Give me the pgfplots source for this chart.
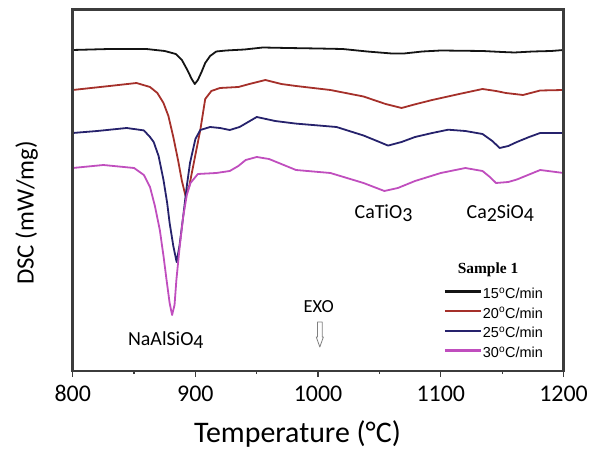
\documentclass[border=0pt]{standalone}
\usepackage{fontspec}
\setmainfont{Carlito}
\newfontfamily\arialf{Liberation Sans}
\newfontfamily\timesf{Liberation Serif}
\usepackage{pgfplots}
\pgfplotsset{compat=1.18}

\definecolor{c15}{RGB}{20,20,20}
\definecolor{c20}{RGB}{165,48,42}
\definecolor{c25}{RGB}{38,34,108}
\definecolor{c30}{RGB}{192,78,190}
\definecolor{axgray}{RGB}{60,60,60}

\begin{document}
\begin{tikzpicture}
\path[use as bounding box] (-72.7bp,-82bp) rectangle (519.3bp,371bp);
\begin{axis}[
  at={(0,0)}, anchor=south west,
  scale only axis, width=490.8bp, height=361.7bp,
  xmin=800, xmax=1200, ymin=0, ymax=361.7,
  xtick={800,900,...,1200}, minor x tick num=1,
  ytick=\empty, xtick pos=left, tick align=outside,
  major tick length=6bp, minor tick length=3bp,
  axis line style={axgray, line width=2bp},
  every tick/.style={axgray, line width=1.3bp},
  /pgf/number format/assume math mode=true,
  /pgf/number format/1000 sep={},
  tick label style={font=\fontsize{24}{24}\selectfont},
  xticklabel style={yshift=-5bp},
  xlabel={Temperature (°C)},
  xlabel style={font=\fontsize{30}{30}\selectfont, at={(axis description cs:0.458,-0.199)}, anchor=base},
  ylabel={DSC (mW/mg)},
  ylabel style={font=\fontsize{25}{25}\selectfont, at={(axis description cs:-0.0937,0.437)}, anchor=center},
  legend style={draw=none, fill=none, inner sep=0pt, outer sep=0pt,
    row sep=4.7bp, font=\arialf\fontsize{14.5}{14.5}\selectfont,
    nodes={text height=10bp, text depth=3bp, inner sep=1bp},
    at={(axis cs:1102.4,83.5)}, anchor=north west},
  legend cell align=left,
  legend image code/.code={\draw[#1, line width=2.2bp] (0bp,3.5bp) -- (36bp,3.5bp);},
  line join=round,
]
% 15 C/min
\addplot[c15, line width=1.8bp] coordinates {
(800,321) (830,322) (860,322) (875,320) (884,317) (889,311) (893,302) (897,292) (899.5,287)
(902,291) (905,299) (908,308) (912,315) (917,319.5) (925,320.5) (940,321.5) (955,323.5)
(975,323) (1000,322.5) (1020,322) (1040,319.5) (1060,317.5) (1070,317.5) (1085,319.5)
(1100,320.5) (1134,320) (1150,319) (1160,318.5) (1175,319.5) (1190,320) (1200,321)};
\addlegendentry{15\textsuperscript{o}C/min}
% 20 C/min
\addplot[c20, line width=1.8bp] coordinates {
(800,281) (830,285) (852,288) (863,284) (869,278) (874,268) (878,255) (882,234) (886,210)
(889,190) (892,175) (895,185) (899,210) (904,241) (908,272) (913,280) (920,283) (935,284)
(944,287) (957,291) (970,287) (982,285) (1010,281) (1037,274.5) (1055,267) (1068,263)
(1080,267) (1093,271) (1115,277) (1134,282) (1145,280) (1153,278) (1167,276) (1181,280.5) (1200,281)};
\addlegendentry{20\textsuperscript{o}C/min}
% 25 C/min
\addplot[c25, line width=1.8bp] coordinates {
(800,238) (820,240) (844,243) (858,240.6) (863,234) (866,229) (870,215) (874,191) (877,168)
(879,148) (882,125) (884.7,109) (887,125) (890,154) (893,185) (895.6,208) (900,232) (904,241)
(912,244) (920,243) (928,241) (936,244) (943,249) (950,254) (965,250) (982,247.4) (1015,244)
(1037,235.5) (1050,229) (1057,225.4) (1068,229) (1079,234) (1093,238) (1106,241.3) (1120,240)
(1134,237) (1142,230) (1148,223) (1155,225) (1162,229) (1172,234) (1181,238) (1200,238)};
\addlegendentry{25\textsuperscript{o}C/min}
% 30 C/min
\addplot[c30, line width=1.8bp] coordinates {
(800,203) (825,206) (850,203) (858,196) (863,184) (867,165) (871,141) (874,115) (876.5,91)
(879,68) (881,56) (883,66) (884.5,91) (887,122) (890,154) (893,176) (896,188) (902,197)
(917,198) (928,200) (935,205) (941,211) (950,214) (960,212) (982,201) (1010,198) (1037,188)
(1054,180) (1065,183) (1079,190) (1100,198) (1120,203) (1134,200) (1140,194) (1145,188)
(1155,189) (1162,191.5) (1181,201) (1200,198)};
\addlegendentry{30\textsuperscript{o}C/min}

\node[font=\fontsize{20}{20}\selectfont] at (axis cs:875.9,31) {NaAlSiO\raisebox{-0.35ex}{4}};
\node[font=\fontsize{20}{20}\selectfont] at (axis cs:1053.3,158) {CaTiO\raisebox{-0.35ex}{3}};
\node[font=\fontsize{20}{20}\selectfont] at (axis cs:1148.5,158) {Ca\raisebox{-0.35ex}{2}SiO\raisebox{-0.35ex}{4}};
\node[font=\fontsize{18.5}{18.5}\selectfont] at (axis cs:1000.5,64) {EXO};
\draw[gray, line width=0.8bp, fill=white] (axis cs:999.5,49) -- (axis cs:1003.3,49) -- (axis cs:1003.3,34)
  -- (axis cs:1004.3,34) -- (axis cs:1001.4,24) -- (axis cs:998.5,34) -- (axis cs:999.5,34) -- cycle;
\node[font=\timesf\bfseries\fontsize{15.5}{15.5}\selectfont, anchor=base] at (axis cs:1138.5,97) {Sample 1};
\end{axis}
\draw[axgray, line width=2.6bp] (0bp,0bp) rectangle (490.8bp,361.7bp);
\end{tikzpicture}
\end{document}
